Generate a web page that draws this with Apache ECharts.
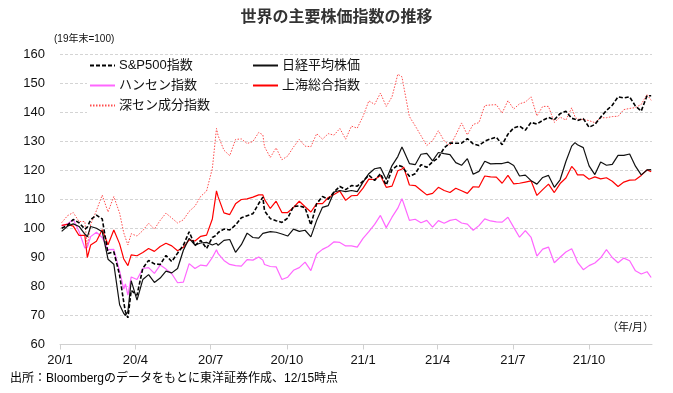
<!DOCTYPE html>
<html>
<head>
<meta charset="utf-8">
<script src="https://cdn.jsdelivr.net/npm/echarts@6/dist/echarts.min.js"></script>
<style>
html,body{margin:0;padding:0;background:#fff;}
#chart{width:673px;height:393px;}
</style>
</head>
<body>
<div id="chart"></div>
<script>
const dates = [
'2020-01-03','2020-01-10','2020-01-17','2020-01-24','2020-01-31','2020-02-03','2020-02-07','2020-02-14','2020-02-21','2020-02-28',
'2020-03-06','2020-03-13','2020-03-18','2020-03-20','2020-03-23','2020-03-27','2020-04-03','2020-04-10','2020-04-17','2020-04-24',
'2020-05-01','2020-05-08','2020-05-15','2020-05-22','2020-05-29','2020-06-05','2020-06-12','2020-06-19','2020-06-26','2020-07-03',
'2020-07-08','2020-07-10','2020-07-17','2020-07-24','2020-07-31','2020-08-07','2020-08-14','2020-08-21','2020-08-28','2020-09-02',
'2020-09-04','2020-09-11','2020-09-18','2020-09-25','2020-10-02','2020-10-09','2020-10-16','2020-10-23','2020-10-30','2020-11-06',
'2020-11-13','2020-11-20','2020-11-27','2020-12-04','2020-12-11','2020-12-18','2020-12-25','2021-01-01','2021-01-08','2021-01-15',
'2021-01-22','2021-01-29','2021-02-05','2021-02-12','2021-02-17','2021-02-19','2021-02-26','2021-03-05','2021-03-12','2021-03-19',
'2021-03-26','2021-04-02','2021-04-09','2021-04-16','2021-04-23','2021-04-30','2021-05-07','2021-05-14','2021-05-21','2021-05-28',
'2021-06-04','2021-06-11','2021-06-18','2021-06-25','2021-07-02','2021-07-09','2021-07-16','2021-07-23','2021-07-30','2021-08-06',
'2021-08-13','2021-08-20','2021-08-27','2021-09-03','2021-09-10','2021-09-14','2021-09-17','2021-09-24','2021-10-01','2021-10-08',
'2021-10-15','2021-10-22','2021-10-29','2021-11-05','2021-11-12','2021-11-19','2021-11-26','2021-12-03','2021-12-10','2021-12-15'
];
const sp500 = [
100.1,101.1,103.1,102.0,99.8,100.5,103.0,104.6,103.3,91.4,
92.0,83.9,74.6,71.3,69.2,78.6,77.0,86.3,89.0,87.8,
87.6,90.7,88.6,91.5,94.2,98.9,94.1,95.9,93.1,96.9,
97.7,98.6,99.8,99.5,101.2,103.7,104.4,105.1,108.6,110.8,
106.1,103.4,102.7,102.1,103.6,107.6,107.8,107.2,101.2,108.6,
111.0,110.1,112.6,114.5,113.4,114.8,114.6,116.3,118.4,116.6,
118.9,115.0,120.3,121.8,121.4,120.9,118.0,118.9,122.0,121.1,
123.0,124.4,127.8,129.5,129.4,129.4,131.0,129.2,128.6,130.1,
130.9,131.5,128.9,132.5,134.7,135.3,133.9,136.6,136.0,137.3,
138.3,137.5,139.6,140.4,138.0,137.7,137.2,137.9,134.9,135.9,
138.4,140.7,142.5,145.4,145.0,145.4,142.2,140.5,145.8,145.8
];
const nikkei = [
99.0,100.8,101.6,100.7,98.1,97.1,100.7,100.1,98.9,89.4,
87.7,73.7,70.7,70.0,71.4,82.0,75.3,82.4,84.1,81.4,
82.9,85.3,84.7,86.2,92.5,96.6,94.3,95.0,95.2,94.3,
94.9,94.2,95.9,96.2,91.8,94.4,98.4,96.9,96.7,98.3,
98.1,98.9,98.7,98.1,97.4,99.8,99.0,99.4,97.1,102.8,
107.3,107.9,112.6,113.1,112.7,113.1,112.7,116.0,118.9,120.6,
121.0,116.9,121.7,124.8,128.1,126.9,122.4,122.0,125.6,125.9,
123.3,126.2,125.8,125.5,122.7,121.8,124.1,118.7,119.7,123.2,
122.3,122.4,122.4,122.9,121.7,118.1,118.4,116.5,115.3,117.6,
118.3,114.2,116.8,123.1,128.4,129.6,128.9,127.9,121.6,118.6,
122.9,121.8,122.1,125.2,125.2,125.7,121.5,118.5,120.2,120.3
];
const hangseng = [
100.9,101.6,103.1,99.0,93.3,93.5,97.2,98.7,96.9,92.7,
92.8,85.3,79.1,80.9,77.0,83.3,82.4,86.2,86.5,84.5,
87.4,86.0,84.4,81.3,81.5,87.9,86.2,87.4,87.1,90.0,
92.7,91.3,89.0,87.6,87.2,87.0,89.3,89.1,90.2,89.1,
87.6,86.9,86.8,82.4,83.2,85.6,86.5,88.4,85.5,91.2,
92.8,93.8,95.4,95.2,94.0,94.0,93.6,96.6,98.9,101.4,
104.5,100.3,103.9,107.0,110.3,108.7,102.8,103.2,102.0,102.8,
100.5,102.7,101.8,102.8,103.2,101.9,101.5,99.4,101.0,103.3,
102.6,102.3,102.2,103.9,100.4,97.0,99.3,96.9,90.5,92.9,
93.6,88.2,90.1,91.9,93.0,90.5,88.4,85.8,87.2,88.1,
89.9,92.7,90.0,88.2,89.8,88.9,85.4,84.3,85.1,83.1
];
const shanghai = [
101.1,101.4,100.8,97.6,97.6,90.0,94.3,95.6,99.6,94.4,
99.5,94.7,89.5,90.0,87.2,90.9,90.6,91.7,93.1,92.1,
93.8,94.9,94.0,92.3,93.5,96.1,95.7,97.3,97.7,103.3,
113.0,110.9,105.4,104.8,108.5,110.0,110.2,110.8,111.6,111.6,
110.0,106.9,109.4,105.5,105.5,107.3,109.4,107.5,105.7,108.6,
108.6,110.7,111.7,112.9,109.7,111.3,111.4,113.9,117.0,116.9,
118.3,114.2,114.6,119.9,120.5,121.2,115.0,114.8,113.2,111.6,
112.1,114.2,113.1,112.4,113.9,113.0,112.1,114.4,114.3,118.1,
117.8,117.7,115.6,118.3,115.4,115.6,116.0,116.4,111.4,113.4,
115.3,112.4,115.5,117.4,121.4,120.1,118.5,118.5,117.0,117.8,
117.1,117.5,116.3,114.5,116.0,116.7,116.8,118.3,120.2,119.6
];
const shenzhen = [
102.0,104.4,105.5,102.4,102.4,93.8,101.4,106.2,111.5,105.7,
111.0,105.3,98.5,98.7,94.3,98.2,97.4,99.3,101.8,99.8,
102.8,105.3,103.6,101.9,103.0,105.9,107.7,111.1,112.9,120.7,
134.5,132.0,127.0,125.1,130.7,130.9,129.3,130.0,133.1,132.3,
128.2,124.5,127.8,123.7,125.0,128.1,130.7,128.4,128.2,132.7,
130.8,132.7,132.2,134.5,130.8,135.3,134.6,138.7,144.0,142.8,
146.7,142.1,145.4,153.2,152.3,149.2,138.6,135.4,132.0,128.6,
130.3,133.7,130.2,128.6,132.2,136.4,132.3,135.9,136.5,142.4,
142.6,142.7,139.8,144.1,141.2,143.0,143.6,145.4,138.8,142.1,
142.1,136.6,138.4,137.4,141.6,138.5,137.7,137.6,137.2,136.5,
138.2,138.2,138.6,138.7,141.0,141.4,141.7,142.8,146.2,144.2
];
const seriesNames = ['S&P500指数','日経平均株価','ハンセン指数','上海総合指数','深セン成分指数'];
const tickDates = ['2020-01-01','2020-04-01','2020-07-01','2020-10-01','2021-01-01','2021-04-01','2021-07-01','2021-10-01'];
const tickLabels = ['20/1','20/4','20/7','20/10','21/1','21/4','21/7','21/10'];
const xEndDate = '2021-12-16';

const FONT = "'Liberation Sans', 'Noto Sans CJK JP', sans-serif";
const day0 = Date.parse('2020-01-01');
const dayOf = s => Math.round((Date.parse(s) - day0) / 86400000);
const tickDays = tickDates.map(dayOf);
const toData = vals => dates.map((d, i) => [dayOf(d), vals[i]]);

const legendBase = {
  orient: 'vertical', top: 57,
  itemWidth: 25, itemHeight: 12, itemGap: 7, padding: [2, 4, 2, 2],
  backgroundColor: '#fff',
  itemStyle: {opacity: 0},
  textStyle: {fontSize: 13, color: '#111', fontFamily: FONT, padding: [0, 0, 0, -1]}
};

const chart = echarts.init(document.getElementById('chart'), null, {renderer: 'canvas'});
const option = {
  backgroundColor: '#fff',
  animation: false,
  textStyle: {fontFamily: FONT},
  title: {
    text: '世界の主要株価指数の推移',
    left: 'center', top: 5,
    textStyle: {fontSize: 16, fontWeight: 'bold', color: '#333', fontFamily: FONT}
  },
  legend: [
    Object.assign({}, legendBase, {data: [seriesNames[0], seriesNames[2], seriesNames[4]], left: 87}),
    Object.assign({}, legendBase, {data: [seriesNames[1], seriesNames[3]], left: 250})
  ],
  grid: {left: 60, right: 21, top: 54.5, bottom: 48.5, containLabel: false},
  xAxis: {
    type: 'value', min: 0, max: dayOf(xEndDate),
    axisLine: {show: true, lineStyle: {color: '#d0d0d0', width: 1}},
    axisTick: {show: true, customValues: tickDays, length: 5, lineStyle: {color: '#d0d0d0'}},
    axisLabel: {
      customValues: tickDays, margin: 9, fontSize: 13, color: '#111', fontFamily: FONT,
      formatter: v => tickLabels[tickDays.indexOf(v)]
    },
    splitLine: {show: false}
  },
  yAxis: {
    type: 'value', min: 60, max: 160, interval: 10,
    axisLine: {show: false}, axisTick: {show: false},
    axisLabel: {margin: 15, fontSize: 13, color: '#111', fontFamily: FONT},
    splitLine: {show: true, lineStyle: {color: '#d4d4d4', type: [3, 2], width: 1}}
  },
  graphic: [
    {type: 'text', left: 54, top: 34, style: {text: '(19年末=100)', fontSize: 10, fill: '#111', fontFamily: FONT}},
    {type: 'text', left: 607, top: 322, style: {text: '（年/月）', fontSize: 11, fill: '#111', fontFamily: FONT}},
    {type: 'text', left: 10, top: 373, style: {text: '出所：Bloombergのデータをもとに東洋証券作成、12/15時点', fontSize: 12, fill: '#000', fontFamily: FONT}}
  ],
  series: [
    {name: seriesNames[4], type: 'line', data: toData(shenzhen), showSymbol: false, symbol: 'none', z: 2,
     lineStyle: {color: '#ff4d4d', width: 1, type: [1.5, 1.5]}, itemStyle: {color: '#ff4d4d'}},
    {name: seriesNames[2], type: 'line', data: toData(hangseng), showSymbol: false, symbol: 'none', z: 3,
     lineStyle: {color: '#ff66ff', width: 1.2}, itemStyle: {color: '#ff66ff'}},
    {name: seriesNames[3], type: 'line', data: toData(shanghai), showSymbol: false, symbol: 'none', z: 4,
     lineStyle: {color: '#ff0000', width: 1.2}, itemStyle: {color: '#ff0000'}},
    {name: seriesNames[1], type: 'line', data: toData(nikkei), showSymbol: false, symbol: 'none', z: 5,
     lineStyle: {color: '#111', width: 1.2}, itemStyle: {color: '#111'}},
    {name: seriesNames[0], type: 'line', data: toData(sp500), showSymbol: false, symbol: 'none', z: 6,
     lineStyle: {color: '#000', width: 1.6, type: [4, 2]}, itemStyle: {color: '#000'}}
  ]
};
chart.setOption(option);
</script>
</body>
</html>
